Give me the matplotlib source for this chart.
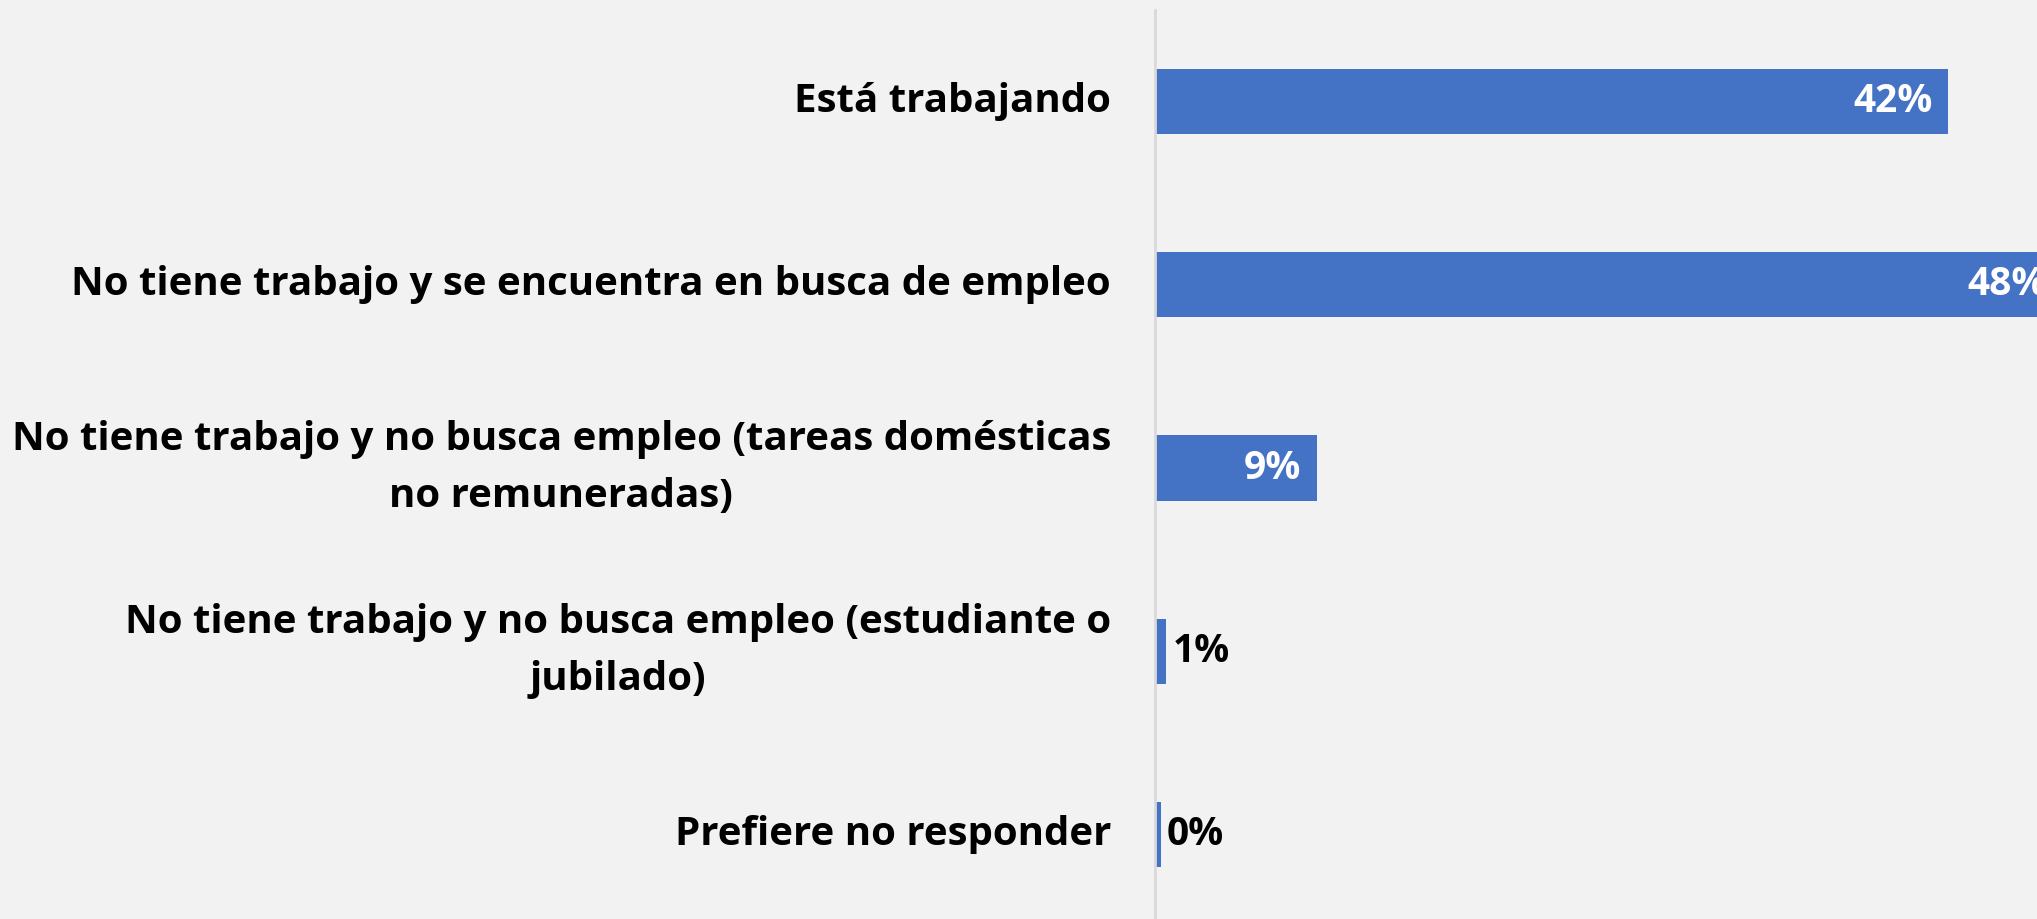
import matplotlib.pyplot as plt

categories = [
    "Está trabajando",
    "No tiene trabajo y se encuentra en busca de empleo",
    "No tiene trabajo y no busca empleo (tareas domésticas\nno remuneradas)",
    "No tiene trabajo y no busca empleo (estudiante o\njubilado)",
    "Prefiere no responder",
]
values = [42.2, 48.3, 8.6, 0.6, 0.3]
labels = ["42%", "48%", "9%", "1%", "0%"]

BG = "#F2F2F2"
BAR = "#4472C4"
FONT = "Open Sans"
FS = 29

fig = plt.figure(figsize=(20.37, 9.19), dpi=100, facecolor=BG)
ax = fig.add_axes([1155 / 2037, -7 / 919, 882 / 2037, 916 / 919])
ax.set_facecolor(BG)

y = list(range(len(categories)))
ax.barh(y, values, height=0.355, color=BAR)
ax.set_ylim(4.5, -0.5)
ax.set_xlim(0, 46.95)

for s in ["top", "right", "bottom"]:
    ax.spines[s].set_visible(False)
ax.spines["left"].set_color("#D9D9D9")
ax.spines["left"].set_linewidth(2)
ax.set_xticks([])
ax.set_yticks([])

for yi, cat in zip(y, categories):
    ax.annotate(cat, xy=(0, yi), xytext=(-44, 0), textcoords="offset pixels",
                ha="right", va="center", multialignment="center",
                fontsize=FS, fontweight="bold", family=FONT, linespacing=1.6,
                annotation_clip=False)

for yi, v, lab in zip(y, values, labels):
    if v > 5:
        ax.annotate(lab, xy=(v, yi), xytext=(-15, 0), textcoords="offset pixels",
                    ha="right", va="center", color="white", fontsize=28,
                    fontweight="bold", family=FONT, annotation_clip=False)
    else:
        ax.annotate(lab, xy=(v, yi), xytext=(6, 0), textcoords="offset pixels",
                    ha="left", va="center", color="black", fontsize=28,
                    fontweight="bold", family=FONT, annotation_clip=False)

fig.savefig("out.png", dpi=100, facecolor=BG)
